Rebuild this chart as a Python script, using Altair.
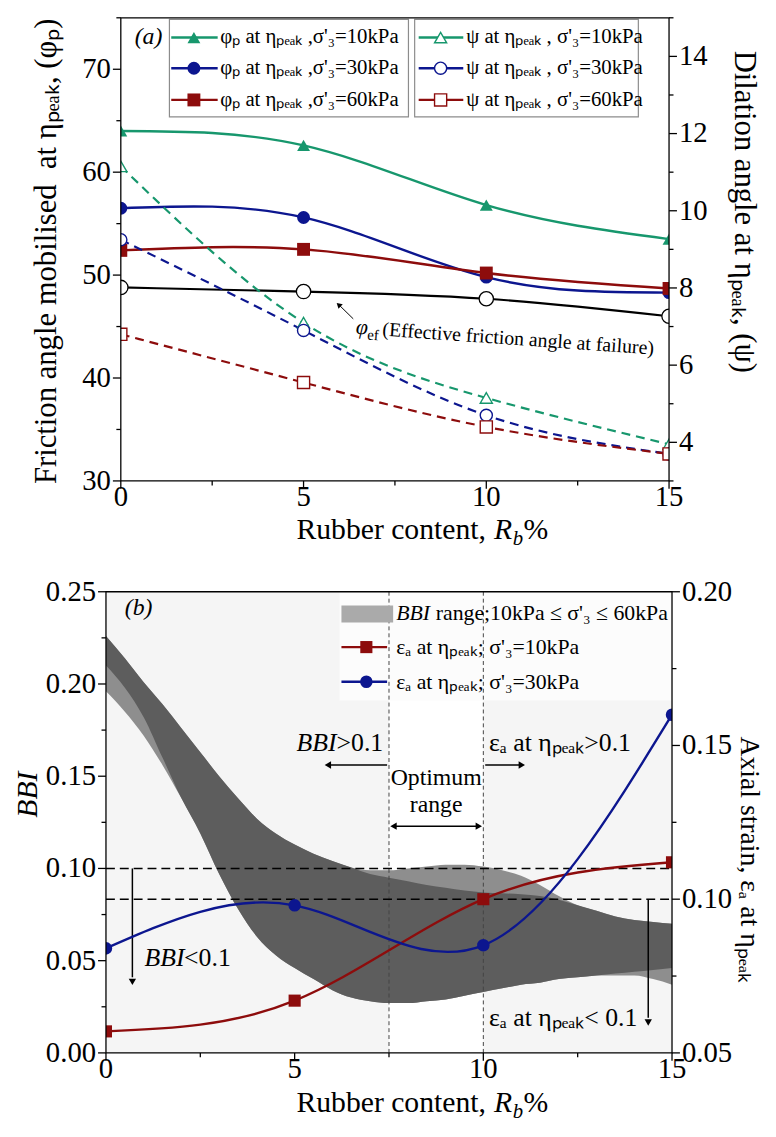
import altair as alt
import pandas as pd

FONT = "Liberation Serif"
GREEN, BLUE, RED = "#17976d", "#0c168f", "#8d0c0c"

# ---------------- data: panel (a) ----------------
rubber = [0, 5, 10, 15]
phi_p_10 = [64.0, 62.6, 56.8, 53.5]
phi_p_30 = [56.5, 55.6, 49.8, 48.3]
phi_p_60 = [52.4, 52.5, 50.2, 48.7]
phi_ef = [48.8, 48.4, 47.7, 46.0]
psi_10 = [11.15, 7.1, 5.15, 3.95]
psi_30 = [9.25, 6.9, 4.7, 3.7]
psi_60 = [6.8, 5.55, 4.4, 3.7]

# ---------------- data: panel (b) ----------------
eps_10 = [0.057, 0.067, 0.100, 0.112]
eps_30 = [0.084, 0.098, 0.085, 0.160]
band_x = [0, 0.5, 1, 1.5, 2, 2.5, 3, 3.5, 4, 4.5, 5, 5.5, 6, 6.5, 7, 7.5,
          8, 8.5, 9, 9.5, 10, 10.5, 11, 11.5, 12, 12.5, 13, 13.5, 14, 14.5, 15]
bbi_top_outer = [0.226, 0.214, 0.201, 0.189, 0.176, 0.163, 0.150, 0.138, 0.127, 0.119,
                 0.113, 0.108, 0.104, 0.1005, 0.099, 0.099, 0.100, 0.101, 0.102, 0.102,
                 0.101, 0.099, 0.096, 0.091, 0.085, 0.080, 0.077, 0.074, 0.072, 0.071, 0.070]
bbi_top_inner = [0.226, 0.214, 0.201, 0.189, 0.176, 0.163, 0.150, 0.138, 0.127, 0.119,
                 0.113, 0.108, 0.104, 0.1005, 0.097, 0.095, 0.093, 0.091, 0.0895, 0.088,
                 0.087, 0.0865, 0.086, 0.085, 0.083, 0.080, 0.077, 0.074, 0.072, 0.071, 0.070]
bbi_bot_inner = [0.210, 0.198, 0.182, 0.160, 0.138, 0.119, 0.097, 0.078, 0.063, 0.053,
                 0.046, 0.040, 0.034, 0.030, 0.028, 0.027, 0.027, 0.028, 0.029, 0.031,
                 0.033, 0.035, 0.037, 0.038, 0.040, 0.041, 0.042, 0.043, 0.044, 0.045, 0.046]
bbi_bot_outer = [0.196, 0.185, 0.172, 0.156, 0.138, 0.119, 0.097, 0.078, 0.063, 0.053,
                 0.046, 0.040, 0.034, 0.030, 0.028, 0.027, 0.027, 0.028, 0.029, 0.031,
                 0.033, 0.035, 0.037, 0.038, 0.040, 0.041, 0.042, 0.042, 0.042, 0.040, 0.037]
bbi_limit = 0.1
eps_limit_on_bbi = 0.0833

# ---------------- ticks & labels ----------------
x_major = [0, 5, 10, 15]
x_labels = ["0", "5", "10", "15"]
x_minor = [2.5, 7.5, 12.5]
ya_major = [30, 40, 50, 60, 70]
ya_labels = ["30", "40", "50", "60", "70"]
ya_minor = [35, 45, 55, 65, 75]
ya2_major = [4, 6, 8, 10, 12, 14]
ya2_labels = ["4", "6", "8", "10", "12", "14"]
ya2_minor = [3, 5, 7, 9, 11, 13, 15]
yb_major = [0, 0.05, 0.1, 0.15, 0.2, 0.25]
yb_labels = ["0.00", "0.05", "0.10", "0.15", "0.20", "0.25"]
yb_minor = [0.025, 0.075, 0.125, 0.175, 0.225]
yb2_major = [0.05, 0.1, 0.15, 0.2]
yb2_labels = ["0.05", "0.10", "0.15", "0.20"]
yb2_minor = [0.075, 0.125, 0.175]

SER = ["10", "30", "60"]
leg_a_phi = ["φₚ at ηₚₑₐₖ ,σ'₃=10kPa", "φₚ at ηₚₑₐₖ ,σ'₃=30kPa", "φₚ at ηₚₑₐₖ ,σ'₃=60kPa"]
leg_a_psi = ["ψ at ηₚₑₐₖ , σ'₃=10kPa", "ψ at ηₚₑₐₖ , σ'₃=30kPa", "ψ at ηₚₑₐₖ , σ'₃=60kPa"]


def long(vals_list, series):
    rows = []
    for s, vals in zip(series, vals_list):
        for x, v in zip(rubber, vals):
            rows.append({"x": x, "v": v, "s": s})
    return pd.DataFrame(rows)


phi_df = long([phi_p_10, phi_p_30, phi_p_60], SER)
psi_df = long([psi_10, psi_30, psi_60], SER)
ef_df = pd.DataFrame({"x": rubber, "v": phi_ef})
band_df = pd.DataFrame({"x": band_x, "to": bbi_top_outer, "bo": bbi_bot_outer,
                        "ti": bbi_top_inner, "bi": bbi_bot_inner})

# ---------------- scales (pixel ranges place the two panels) ----------------
XA = alt.Scale(domain=[0, 15], range=[114, 668], nice=False, zero=False)
YA = alt.Scale(domain=[30, 75], range=[472, 4], nice=False, zero=False)
YA2 = alt.Scale(domain=[3, 15], range=[472, 4], nice=False, zero=False)
XB = alt.Scale(domain=[0, 15], range=[99, 671], nice=False, zero=False)
YB = alt.Scale(domain=[0, 0.25], range=[1050, 584], nice=False, zero=False)
YB2 = alt.Scale(domain=[0.05, 0.20], range=[1050, 584], nice=False, zero=False)
COL = alt.Scale(domain=SER, range=[GREEN, BLUE, RED])
SHP = alt.Scale(domain=SER, range=["triangle-up", "circle", "square"])
LABEL_SIZE = 29


def X(f, s):
    return alt.X(f, scale=s, axis=None)


def Y(f, s):
    return alt.Y(f, scale=s, axis=None)


def text_mark(x, y, t, xs, ys, **kw):
    df = pd.DataFrame({"x": [x], "y": [y], "t": [t]})
    props = dict(font=FONT, fontSize=22, align="left", baseline="alphabetic", color="black")
    props.update(kw)
    return alt.Chart(df).mark_text(**props).encode(x=X("x:Q", xs), y=Y("y:Q", ys), text="t:N")


def px_text(px, py, t, **kw):
    df = pd.DataFrame({"t": [t]})
    props = dict(font=FONT, fontSize=30, align="left", baseline="alphabetic", color="black")
    props.update(kw)
    return alt.Chart(df).mark_text(**props).encode(x=alt.value(px), y=alt.value(py), text="t:N")


def seg(x1, y1, x2, y2, xs, ys, **kw):
    df = pd.DataFrame({"x": [x1], "y": [y1], "x2": [x2], "y2": [y2]})
    props = dict(color="black", strokeWidth=1.5)
    props.update(kw)
    return alt.Chart(df).mark_rule(**props).encode(x=X("x:Q", xs), y=Y("y:Q", ys), x2="x2:Q", y2="y2:Q")


def head(x, y, shape, xs, ys, angle=0, size=60, color="black"):
    df = pd.DataFrame({"x": [x], "y": [y]})
    return alt.Chart(df).mark_point(shape=shape, filled=True, color=color, size=size,
                                    angle=angle, opacity=1).encode(x=X("x:Q", xs), y=Y("y:Q", ys))


def rect(x1, x2, y1, y2, xs, ys, **kw):
    df = pd.DataFrame({"x": [x1], "x2": [x2], "y": [y1], "y2": [y2]})
    return alt.Chart(df).mark_rect(**kw).encode(x=X("x:Q", xs), x2="x2:Q", y=Y("y:Q", ys), y2="y2:Q")


def x_axis_marks(xs, ys, y0, x0, x1, y1):
    """side masks (clip edge markers), frame, bottom ticks and labels"""
    maj = pd.DataFrame({"v": x_major, "b": [y0] * len(x_major), "t": x_labels})
    mnr = pd.DataFrame({"v": x_minor, "b": [y0] * len(x_minor)})
    return [
        rect(x0 - 0.45, x0, y0, y1, xs, ys, fill="white"),
        rect(x1, x1 + 0.45, y0, y1, xs, ys, fill="white"),
        rect(x0, x1, y0, y1, xs, ys, fillOpacity=0, stroke="black", strokeWidth=1.3),
        alt.Chart(maj).mark_rule(color="black", strokeWidth=1.3, y2Offset=8).encode(
            x=X("v:Q", xs), y=Y("b:Q", ys), y2="b:Q"),
        alt.Chart(mnr).mark_rule(color="black", strokeWidth=1.3, y2Offset=4.5).encode(
            x=X("v:Q", xs), y=Y("b:Q", ys), y2="b:Q"),
        alt.Chart(maj).mark_text(font=FONT, fontSize=LABEL_SIZE, baseline="middle", dy=16, color="black").encode(
            x=X("v:Q", xs), y=Y("b:Q", ys), text="t:N"),
    ]


def y_axis_marks(vals, labels, minor, xs, ys, x_at, side):
    sign = -1 if side == "left" else 1
    maj = pd.DataFrame({"v": vals, "b": [x_at] * len(vals), "t": labels})
    mnr = pd.DataFrame({"v": minor, "b": [x_at] * len(minor)})
    return [
        alt.Chart(maj).mark_rule(color="black", strokeWidth=1.3, x2Offset=8 * sign).encode(
            y=Y("v:Q", ys), x=X("b:Q", xs), x2="b:Q"),
        alt.Chart(mnr).mark_rule(color="black", strokeWidth=1.3, x2Offset=4.5 * sign).encode(
            y=Y("v:Q", ys), x=X("b:Q", xs), x2="b:Q"),
        alt.Chart(maj).mark_text(font=FONT, fontSize=LABEL_SIZE, baseline="middle", dx=10 * sign,
                                 align="right" if side == "left" else "left", color="black").encode(
            y=Y("v:Q", ys), x=X("b:Q", xs), text="t:N"),
    ]


def x_title(pivot, base):
    return [
        px_text(pivot - 8, base, "Rubber content,", align="right"),
        px_text(pivot, base, "R", fontStyle="italic"),
        px_text(pivot, base, "b", fontStyle="italic", fontSize=21, dx=19, dy=6),
        px_text(pivot, base, "%", dx=30),
    ]


def v_title(px, py, t, angle, size=30, **kw):
    return px_text(px, py, t, angle=angle, align="center", baseline="middle", fontSize=size, **kw)


# ====================== panel (a) ======================
phi_line = alt.Chart(phi_df).mark_line(interpolate="natural", strokeWidth=2.4).encode(
    x=X("x:Q", XA), y=Y("v:Q", YA), color=alt.Color("s:N", scale=COL, legend=None))
ef_line = alt.Chart(ef_df).mark_line(interpolate="natural", strokeWidth=2.2, color="black").encode(
    x=X("x:Q", XA), y=Y("v:Q", YA))
phi_pts = alt.Chart(phi_df).mark_point(filled=True, size=170, opacity=1).encode(
    x=X("x:Q", XA), y=Y("v:Q", YA),
    color=alt.Color("s:N", scale=COL, legend=None), shape=alt.Shape("s:N", scale=SHP, legend=None))
ef_pts = alt.Chart(ef_df).mark_point(shape="circle", filled=False, fill="white", color="black",
                                     strokeWidth=1.3, size=210, opacity=1).encode(
    x=X("x:Q", XA), y=Y("v:Q", YA))

rows_a = [73.08, 70.1, 67.02]
leg_boxes = pd.DataFrame({"x": [1.33, 8.04], "x2": [7.87, 14.16], "y": [65.38, 65.38], "y2": [74.85, 74.85]})
leg_box_layer = alt.Chart(leg_boxes).mark_rect(fill="white", stroke="#8c8c8c", strokeWidth=1.2).encode(
    x=X("x:Q", XA), x2="x2:Q", y=Y("y:Q", YA), y2="y2:Q")
leg1 = pd.DataFrame({"x": [1.38] * 3, "x2": [2.65] * 3, "xm": [2.0] * 3, "xt": [2.72] * 3,
                     "y": rows_a, "s": SER, "t": leg_a_phi})
leg2 = pd.DataFrame({"x": [8.15] * 3, "x2": [9.37] * 3, "xm": [8.75] * 3, "xt": [9.45] * 3,
                     "y": rows_a, "s": SER, "t": leg_a_psi})


def legend_rows(df, filled):
    base = alt.Chart(df)
    line = base.mark_rule(strokeWidth=2.4).encode(
        x=X("x:Q", XA), x2="x2:Q", y=Y("y:Q", YA), color=alt.Color("s:N", scale=COL, legend=None))
    if filled:
        mk = base.mark_point(filled=True, size=170, opacity=1)
    else:
        mk = base.mark_point(filled=False, fill="white", strokeWidth=1.4, size=150, opacity=1)
    pts = mk.encode(x=X("xm:Q", XA), y=Y("y:Q", YA),
                    color=alt.Color("s:N", scale=COL, legend=None),
                    shape=alt.Shape("s:N", scale=SHP, legend=None))
    txt = base.mark_text(font=FONT, fontSize=21, align="left", baseline="middle", color="black").encode(
        x=X("xt:Q", XA), y=Y("y:Q", YA), text="t:N")
    return [line, pts, txt]


ann_a = [
    text_mark(0.38, 73.08, "(a)", XA, YA, fontStyle="italic", fontSize=24, baseline="middle"),
    seg(6.36, 45.75, 6.0, 47.0, XA, YA, strokeWidth=1),
    head(5.96, 47.12, "triangle-up", XA, YA, angle=313, size=40),
    text_mark(6.42, 44.3, "φ", XA, YA, fontStyle="italic", fontSize=22, angle=4),
    text_mark(6.42, 44.3, "ef", XA, YA, fontSize=15, angle=4, dx=12, dy=5),
    text_mark(6.42, 44.3, "(Effective friction angle at failure)", XA, YA, fontSize=20, angle=4, dx=27),
]

A1 = alt.layer(*([phi_line, ef_line, phi_pts, ef_pts, leg_box_layer] + legend_rows(leg1, True) +
                 legend_rows(leg2, False) + ann_a))

psi_line = alt.Chart(psi_df).mark_line(interpolate="natural", strokeWidth=2.2, strokeDash=[9, 6]).encode(
    x=X("x:Q", XA), y=Y("v:Q", YA2), color=alt.Color("s:N", scale=COL, legend=None))
psi_pts = alt.Chart(psi_df).mark_point(filled=False, fill="white", strokeWidth=1.4, size=150, opacity=1).encode(
    x=X("x:Q", XA), y=Y("v:Q", YA2),
    color=alt.Color("s:N", scale=COL, legend=None), shape=alt.Shape("s:N", scale=SHP, legend=None))
A2 = alt.layer(psi_line, psi_pts)

A3 = alt.layer(*(x_axis_marks(XA, YA, 30, 0, 15, 75) +
                 y_axis_marks(ya_major, ya_labels, ya_minor, XA, YA, 0, "left") +
                 x_title(491, 531) +
                 [v_title(40, 240, "Friction angle mobilised\u00a0\u00a0at ηₚₑₐₖ, (φₚ)", 270, size=31),
                  v_title(744, 200, "Dilation angle at ηₚₑₐₖ, (ψ)", 90, size=31)]))
A4 = alt.layer(*y_axis_marks(ya2_major, ya2_labels, ya2_minor, XA, YA2, 15, "right"))

# ====================== panel (b) ======================
bg_b = rect(0, 15, 0, 0.25, XB, YB, fill="#f5f5f5")
strip_b = rect(7.5, 10, 0, 0.25, XB, YB, fill="#ffffff")
legbg_b = rect(6.19, 15, 0.191, 0.25, XB, YB, fill="#fcfcfc")
band_outer = alt.Chart(band_df).mark_area(color="#8e8e8e", interpolate="monotone", opacity=1).encode(
    x=X("x:Q", XB), y=Y("to:Q", YB), y2="bo:Q")
band_inner = alt.Chart(band_df).mark_area(color="#5d5d5d", interpolate="monotone", opacity=1).encode(
    x=X("x:Q", XB), y=Y("ti:Q", YB), y2="bi:Q")
vdash = alt.Chart(pd.DataFrame({"x": [7.5, 10], "y": [0, 0], "y2": [0.25, 0.25]})).mark_rule(
    color="#444444", strokeDash=[4, 3], strokeWidth=1).encode(x=X("x:Q", XB), y=Y("y:Q", YB), y2="y2:Q")
hdash = alt.Chart(pd.DataFrame({"x": [0, 0], "x2": [15, 15], "y": [bbi_limit, eps_limit_on_bbi]})).mark_rule(
    color="black", strokeDash=[9, 5], strokeWidth=1.6).encode(x=X("x:Q", XB), x2="x2:Q", y=Y("y:Q", YB))

ann_b = [
    text_mark(0.5, 0.2414, "(b)", XB, YB, fontStyle="italic", fontSize=24, baseline="middle"),
    text_mark(6.11, 0.1636, "BBI", XB, YB, fontStyle="italic", fontSize=26, align="right"),
    text_mark(6.11, 0.1636, ">0.1", XB, YB, fontSize=26),
    seg(7.45, 0.1561, 5.95, 0.1561, XB, YB),
    head(5.88, 0.1561, "triangle-left", XB, YB, size=55),
    text_mark(10.15, 0.1636, "εₐ at ηₚₑₐₖ>0.1", XB, YB, fontSize=26),
    seg(10.05, 0.1561, 10.95, 0.1561, XB, YB),
    head(11.02, 0.1561, "triangle-right", XB, YB, size=55),
    text_mark(8.75, 0.1454, "Optimum", XB, YB, fontSize=24, align="center"),
    text_mark(8.75, 0.1304, "range", XB, YB, fontSize=24, align="center"),
    seg(7.65, 0.1229, 9.85, 0.1229, XB, YB),
    head(7.62, 0.1229, "triangle-left", XB, YB, size=55),
    head(9.88, 0.1229, "triangle-right", XB, YB, size=55),
    text_mark(1.02, 0.0472, "BBI", XB, YB, fontStyle="italic", fontSize=26),
    text_mark(2.07, 0.0472, "<0.1", XB, YB, fontSize=26),
    seg(0.70, 0.1, 0.70, 0.041, XB, YB),
    head(0.70, 0.0385, "triangle-down", XB, YB, size=55),
    text_mark(10.15, 0.0145, "εₐ at ηₚₑₐₖ< 0.1", XB, YB, fontSize=26),
    seg(14.37, 0.0833, 14.37, 0.019, XB, YB),
    head(14.37, 0.0165, "triangle-down", XB, YB, size=55),
]

leg_b = [
    rect(6.24, 7.61, 0.2334, 0.2425, XB, YB, fill="#aaaaaa"),
    text_mark(7.69, 0.2387, "BBI", XB, YB, fontStyle="italic", fontSize=22, baseline="middle"),
    text_mark(7.69, 0.2387, "range;10kPa ≤ σ'₃ ≤ 60kPa", XB, YB, fontSize=22, baseline="middle", dx=40),
    seg(6.24, 0.22, 7.45, 0.22, XB, YB, color=RED, strokeWidth=2.4),
    head(6.9, 0.22, "square", XB, YB, size=150, color=RED),
    text_mark(7.69, 0.22, "εₐ at ηₚₑₐₖ; σ'₃=10kPa", XB, YB, fontSize=22, baseline="middle"),
    seg(6.24, 0.2012, 7.45, 0.2012, XB, YB, color=BLUE, strokeWidth=2.4),
    head(6.9, 0.2012, "circle", XB, YB, size=160, color=BLUE),
    text_mark(7.69, 0.2012, "εₐ at ηₚₑₐₖ; σ'₃=30kPa", XB, YB, fontSize=22, baseline="middle"),
]

B1 = alt.layer(*([bg_b, strip_b, legbg_b, band_outer, band_inner, vdash, hdash] + ann_b + leg_b))

eps10_df = pd.DataFrame({"x": rubber, "v": eps_10})
eps30_df = pd.DataFrame({"x": rubber, "v": eps_30})


def eps_layers(df, color, shape, size):
    return [
        alt.Chart(df).mark_line(interpolate="natural", strokeWidth=2.4, color=color).encode(
            x=X("x:Q", XB), y=Y("v:Q", YB2)),
        alt.Chart(df).mark_point(filled=True, size=size, opacity=1, color=color, shape=shape).encode(
            x=X("x:Q", XB), y=Y("v:Q", YB2)),
    ]


B2 = alt.layer(*(eps_layers(eps10_df, RED, "square", 150) + eps_layers(eps30_df, BLUE, "circle", 160)))

B3 = alt.layer(*(x_axis_marks(XB, YB, 0, 0, 15, 0.25) +
                 y_axis_marks(yb_major, yb_labels, yb_minor, XB, YB, 0, "left") +
                 x_title(491, 1110) +
                 [v_title(20, 789, "BBI", 270, fontStyle="italic"),
                  v_title(749, 855, "Axial strain, εₐ at ηₚₑₐₖ", 90, size=28)]))
B4 = alt.layer(*y_axis_marks(yb2_major, yb2_labels, yb2_minor, XB, YB2, 15, "right"))

chart = alt.layer(A1, A2, A3, A4, B1, B2, B3, B4).resolve_scale(
    x="independent", y="independent").properties(
    width=768, height=1121, padding=0
).configure_view(strokeWidth=0)

chart.save("out.html", embed_options={"renderer": "svg", "actions": False})
